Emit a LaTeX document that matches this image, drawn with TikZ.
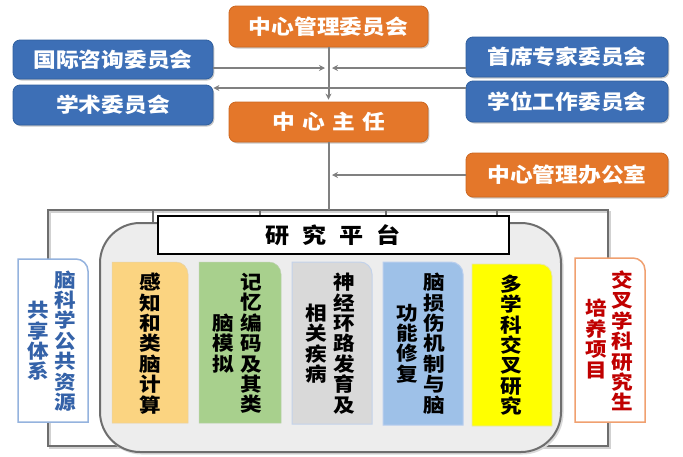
\documentclass[tikz,border=0pt]{standalone}
\usepackage{fontspec}
\setmainfont{Noto Sans CJK SC}[FakeStretch=1.12]
\usetikzlibrary{arrows.meta,shadows}
\definecolor{boxblue}{HTML}{3D6FB6}
\definecolor{boxblueD}{HTML}{30609F}
\definecolor{boxorange}{HTML}{E4772A}
\definecolor{boxorangeD}{HTML}{CC6720}
\definecolor{conngray}{HTML}{808080}
\definecolor{framegray}{HTML}{6E6E6E}
\definecolor{panelfill}{HTML}{EDEDED}
\definecolor{colA}{HTML}{FBD481}
\definecolor{colB}{HTML}{A8D08D}
\definecolor{colC}{HTML}{D9D9D9}
\definecolor{colCb}{HTML}{C3D2EA}
\definecolor{colD}{HTML}{9EC1E8}
\definecolor{colDb}{HTML}{B9CEEE}
\definecolor{colE}{HTML}{FFFF00}
\definecolor{colEb}{HTML}{E6E6B0}
\definecolor{sideblue}{HTML}{95B3DE}
\definecolor{sideblueT}{HTML}{3462A8}
\definecolor{sideorange}{HTML}{F0A070}
\definecolor{sideredT}{HTML}{C00000}
\newcommand\colbox[5]{%
  \path[#5] (#1,#4) -- (#1,#2) -- ({#3-12},#2)
    .. controls ({#3-5.4},#2) and (#3,{#2+5.4}) .. (#3,{#2+12}) -- (#3,#4) -- cycle;}
\tikzset{
  blk/.style={rounded corners=7pt, line width=0.8pt, text=white,
    font=\bfseries\fontsize{20.3}{21}\selectfont, inner sep=0pt,
    drop shadow={shadow xshift=1.3pt, shadow yshift=-1.5pt, opacity=0.22, fill=black}},
  bluebox/.style={blk, fill=boxblue, draw=boxblueD},
  orangebox/.style={blk, fill=boxorange, draw=boxorangeD},
  conn/.style={draw=conngray, line width=2pt},
  arr/.style={conn, -{Stealth[length=6pt,width=6pt]}},
  coltext/.style={align=center, inner sep=0pt, font=\bfseries\fontsize{19.3}{20.4}\selectfont},
}
\begin{document}
\begin{tikzpicture}[x=1pt,y=-1pt]
\useasboundingbox[fill=white] (0,0) rectangle (683,456);

% ---- top nodes ----
\node[orangebox, minimum width=199pt, minimum height=41pt] (mgmt) at (328.5,26.5) {中心管理委员会};
\node[bluebox, minimum width=200pt, minimum height=39pt] (intl) at (113,59.5) {国际咨询委员会};
\node[bluebox, minimum width=200pt, minimum height=40pt] (acad) at (113,105) {学术委员会};
\node[bluebox, minimum width=202pt, minimum height=40pt] (chief) at (567,57) {首席专家委员会};
\node[bluebox, minimum width=202pt, minimum height=41pt] (degree) at (567,101.5) {学位工作委员会};
\node[orangebox, minimum width=199pt, minimum height=40pt] (dir) at (328.5,122) {中\hspace{0.36em}心\hspace{0.36em}主\hspace{0.36em}任};
\node[orangebox, minimum width=202pt, minimum height=44pt] (office) at (567,175) {中心管理办公室};

% ---- connectors ----
\coordinate (jL) at (325,68);
\coordinate (jR) at (332,68);
\coordinate (yd) at (0,88);
\coordinate (jO) at (332,175);
\coordinate (ft) at (328.5,210);
\draw[arr] (mgmt.south) -- ([yshift=2pt]dir.north);
\draw[arr] (intl.east |- jL) -- (jL);
\draw[arr] (chief.west |- jR) -- (jR);
\draw[arr] (degree.west |- yd) -- (acad.east |- yd);
\draw[arr] (office.west) -- (jO);

% ---- outer frame ----
\draw[black!18, line width=2pt] (49.5,211.5) rectangle (609.5,447.5);
\draw[framegray, line width=2pt] (48,210) rectangle (608,446);
\draw[conn] (dir.south) -- (ft);

% ---- research platform panel ----
\draw[black!15, line width=2pt, rounded corners=40pt] (101.5,224.5) rectangle (562.5,453.5);
\draw[framegray, fill=panelfill, line width=2pt, rounded corners=40pt] (100,223) rectangle (561,452);

\coordinate (t1) at (153,210);
\coordinate (t2) at (260,210);
\coordinate (t3) at (386,210);
\coordinate (t4) at (497,210);
\draw[framegray, line width=2pt] (t1) -- (153,223);

\node[draw=black, line width=1.5pt, fill=white, minimum width=351pt, minimum height=38pt, inner sep=0pt,
  font=\bfseries\fontsize{21.5}{22}\selectfont,
  drop shadow={shadow xshift=1.2pt, shadow yshift=-1.2pt, opacity=0.18, fill=black}] (plat) at (333.5,235)
  {研\hspace{0.6em}究\hspace{0.6em}平\hspace{0.6em}台};
\draw[framegray, line width=2pt] (t2) -- (t2 |- plat.north);
\draw[framegray, line width=2pt] (t3) -- (t3 |- plat.north);
\draw[framegray, line width=2pt] (t4) -- (t4 |- plat.north);

% ---- columns ----
\colbox{112}{262}{188}{423}{fill=colA, draw=colA!85!black!60, line width=0.5pt}
\colbox{199}{262}{281}{423}{fill=colB, draw=colB!85!black!60, line width=0.5pt}
\colbox{292}{262}{372}{424}{fill=colC, draw=colCb, line width=1pt}
\colbox{383}{262}{463}{425}{fill=colD, draw=colDb, line width=1pt}
\colbox{472}{264}{552}{426}{fill=colE, draw=colEb, line width=0.8pt}

\node[coltext] (c1) at (150,343.5) {感\\知\\和\\类\\脑\\计\\算};
\node[coltext] (c2a) at (251,343.5) {记\\忆\\编\\码\\及\\其\\类};
\node[coltext] (c2b) at (223,343.5) {脑\\模\\拟};
\node[coltext] (c3a) at (344,343.5) {神\\经\\环\\路\\发\\育\\及};
\node[coltext] (c3b) at (316,343.5) {相\\关\\疾\\病};
\node[coltext] (c4a) at (434,343.5) {脑\\损\\伤\\机\\制\\与\\脑};
\node[coltext] (c4b) at (407.5,343.5) {功\\能\\修\\复};
\node[coltext] (c5) at (511,345) {多\\学\\科\\交\\叉\\研\\究};

% ---- side boxes ----
\colbox{18}{259}{88}{422}{fill=white, draw=sideblue, line width=1.5pt}
\colbox{575}{258}{645}{422}{fill=white, draw=sideorange, line width=1.5pt}
\node[coltext, text=sideblueT] (l1) at (65.5,341) {脑\\科\\学\\公\\共\\资\\源};
\node[coltext, text=sideblueT] (l2) at (38.5,341) {共\\享\\体\\系};
\node[coltext, text=sideredT] (r1) at (622.5,341) {交\\叉\\学\\科\\研\\究\\生};
\node[coltext, text=sideredT] (r2) at (596,339) {培\\养\\项\\目};
\end{tikzpicture}
\end{document}
